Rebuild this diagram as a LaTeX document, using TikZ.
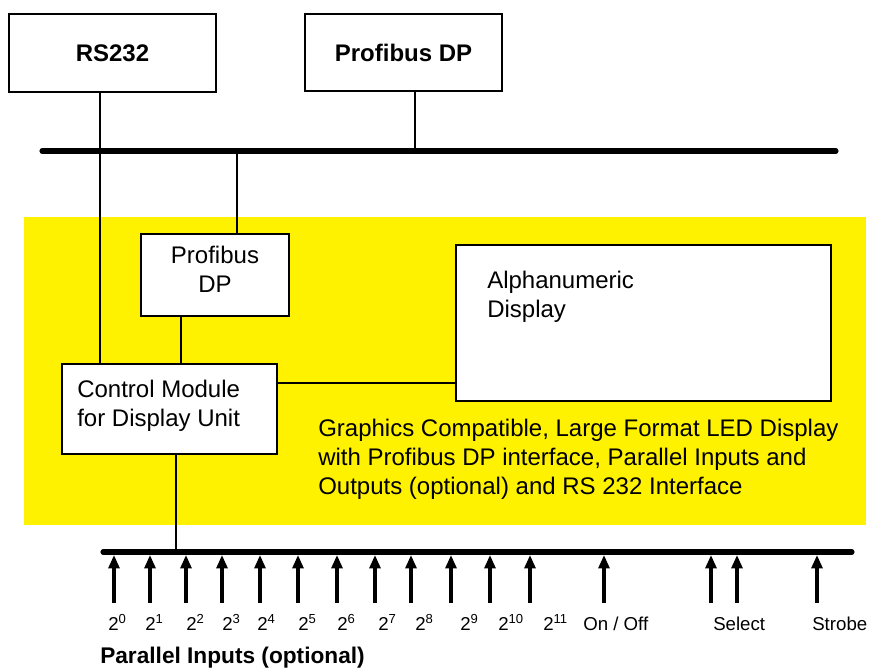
\documentclass[tikz,border=0pt]{standalone}
\usepackage{fontspec}
\setmainfont{Liberation Sans}
\usetikzlibrary{positioning, arrows.meta}

\begin{document}
\begin{tikzpicture}[
    x=0.75pt, y=-0.75pt,
    font=\fontsize{18}{21.75}\selectfont,
    >={Triangle[length=10pt 0, width=8pt 0]},
    box/.style={
        rectangle, draw=black, line width=1.4pt, fill=white,
        inner sep=0pt
    },
    head/.style={
        font=\fontsize{18}{21.75}\selectfont\bfseries
    },
    txt/.style={
        align=left, inner sep=0pt
    },
    wire/.style={draw=black, line width=1.1pt},
    bus/.style={draw=black, line width=3.8pt, line cap=round},
    input/.style={->, line width=2.6pt, shorten >=2.2pt},
    bit/.style={
        font=\fontsize{14}{16}\selectfont, anchor=base west, inner sep=0pt
    }
]

\useasboundingbox (0,0) rectangle (869,668);

% ============ DISPLAY UNIT (yellow panel) ============
\fill[yellow] (24,217) rectangle (866,525);

% ============ INTERFACES (top) ============
\node[box, head, minimum width=155.25pt, minimum height=58.5pt] (rs) at (112.5,53) {RS232};
\node[box, head, minimum width=147.75pt, minimum height=57.75pt] (pbtop) at (403.5,52.5) {Profibus DP};

% bus lines
\coordinate (topbusw) at (42,151);
\coordinate (topbuse) at (836,151);
\coordinate (botbusw) at (103,552);
\coordinate (botbuse) at (852,552);

% ============ MODULES (inside panel) ============
\node[box, minimum width=111pt, minimum height=61.5pt] (pbsmall) at (215,275) {};
\node[txt, align=center] (pbsmalltxt) at (215,269) {Profibus\\DP};

\node[box, minimum width=161.25pt, minimum height=67.5pt] (cm) at (169.5,409) {};
\node[txt, anchor=west] (cmtxt) at (77,406) {Control Module\\for Display Unit};

\node[box, minimum width=281.25pt, minimum height=117pt] (disp) at (643.5,323) {};
\node[txt, anchor=west] (disptxt) at (487,297) {Alphanumeric\\Display};

\node[txt, anchor=west] (desc) at (318,459)
    {Graphics Compatible, Large Format LED Display\\
     with Profibus DP interface, Parallel Inputs and\\
     Outputs (optional) and RS 232 Interface};

% ============ CONNECTIONS ============
\draw[bus] (topbusw) -- (topbuse);
\draw[bus] (botbusw) -- (botbuse);

\draw[wire] (rs.south -| 100,0) -- (cm.north -| 100,0);
\draw[wire] (pbtop.south -| 415,0) -- (topbusw -| 415,0);
\draw[wire] (topbusw -| 237,0) -- (pbsmall.north -| 237,0);
\draw[wire] (pbsmall.south -| 181,0) -- (cm.north -| 181,0);
\draw[wire] (cm.east |- 0,383) -- (disp.west |- 0,383);
\draw[wire] (cm.south -| 176,0) -- (botbusw -| 176,0);

% ============ PARALLEL INPUTS (bottom) ============
\foreach \xa [count=\i] in {114,150,186,222,260,298,337,375,411,451,490,530,604,711,737,817} {
    \coordinate (in\i) at (\xa,603);
    \draw[input] (in\i) -- (in\i |- botbusw);
}

\foreach \xl/\t [count=\i] in {108/2\textsuperscript{0}, 145/2\textsuperscript{1},
        186/2\textsuperscript{2}, 222/2\textsuperscript{3}, 257/2\textsuperscript{4},
        298/2\textsuperscript{5}, 337/2\textsuperscript{6}, 378/2\textsuperscript{7},
        415/2\textsuperscript{8}, 460/2\textsuperscript{9}, 498/2\textsuperscript{10},
        543/2\textsuperscript{11}, 583/{On / Off}, 713/Select, 812/Strobe}
    \node[bit] (bit\i) at (\xl,630) {\t};

\node[head, anchor=base west, inner sep=0pt, font=\fontsize{17}{20}\selectfont\bfseries]
    (inputs) at (100,663) {Parallel Inputs (optional)};

\end{tikzpicture}
\end{document}
